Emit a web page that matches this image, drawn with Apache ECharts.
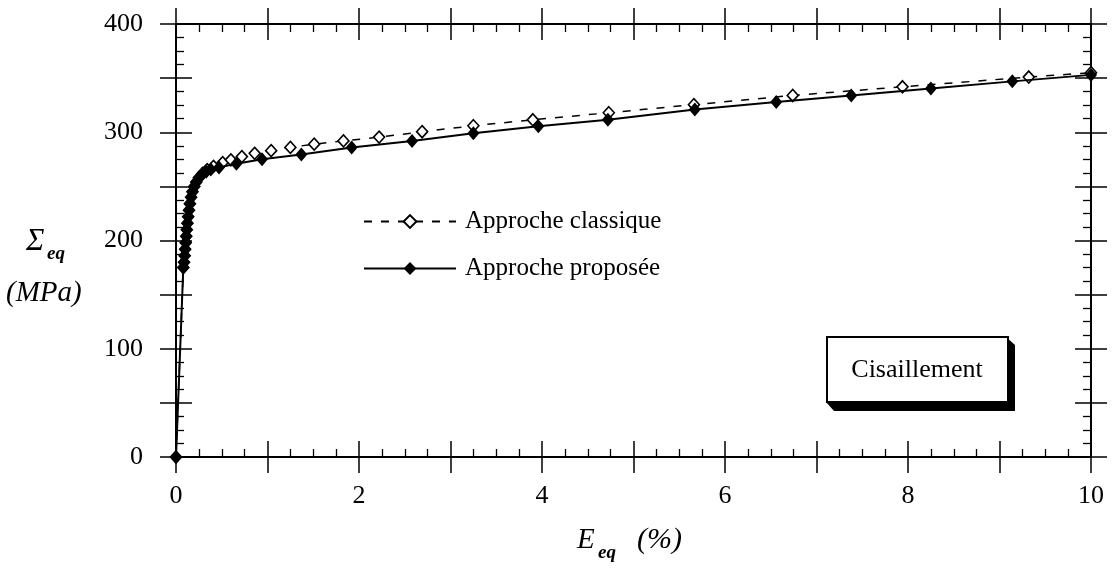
<!DOCTYPE html>
<html>
<head>
<meta charset="utf-8">
<script src="https://cdn.jsdelivr.net/npm/echarts@6/dist/echarts.min.js"></script>
<style>
html,body{margin:0;padding:0;background:#fff;}
#c{width:1113px;height:568px;}
</style>
</head>
<body>
<div id="c"></div>
<script>
// ---- data ----
const strainClassique = [0, 0.08, 0.088, 0.095, 0.1, 0.106, 0.112, 0.118, 0.125, 0.133, 0.142, 0.152, 0.165, 0.18, 0.2, 0.222, 0.25, 0.29, 0.34, 0.41, 0.51, 0.6, 0.72, 0.86, 1.04, 1.25, 1.51, 1.83, 2.22, 2.69, 3.25, 3.9, 4.73, 5.66, 6.74, 7.94, 9.32, 10];
const stressClassique = [0, 175, 180, 186, 192, 198, 204, 210, 216, 222, 228, 234, 240, 245, 250, 254, 258, 262, 265.5, 268.5, 272, 274.5, 277.5, 280.5, 283, 286, 289, 292, 295.5, 300.5, 306, 311.5, 318, 325.5, 334, 342, 351, 355];
const strainProposee = [0, 0.08, 0.088, 0.095, 0.1, 0.106, 0.112, 0.118, 0.125, 0.133, 0.142, 0.152, 0.165, 0.18, 0.2, 0.222, 0.25, 0.285, 0.33, 0.38, 0.47, 0.66, 0.94, 1.37, 1.92, 2.58, 3.25, 3.96, 4.72, 5.67, 6.56, 7.38, 8.25, 9.14, 10];
const stressProposee = [0, 175, 180, 186, 192, 198, 204, 210, 216, 222, 228, 234, 240, 245, 250, 254, 258, 261, 263.5, 265.5, 267.5, 271, 275, 279.5, 286, 292, 299, 305.5, 311.5, 321, 328, 334, 340.5, 347, 353];
const xLabels = [0, 2, 4, 6, 8, 10];
const yLabels = [0, 100, 200, 300, 400];
const seriesNames = ['Approche classique', 'Approche proposée'];

const FONT = 'Liberation Serif';
const pairs = (xs, ys) => xs.map((x, i) => [x, ys[i]]);

const baseX = {
  type: 'value', min: 0, max: 10, interval: 1,
  splitLine: {show: false}, minorSplitLine: {show: false},
  axisLine: {show: true, onZero: false, lineStyle: {color: '#000', width: 2}}
};
const baseY = {
  type: 'value', min: 0, max: 400, interval: 50,
  splitLine: {show: false}, minorSplitLine: {show: false},
  axisLine: {show: true, onZero: false, lineStyle: {color: '#000', width: 2}}
};
const tickIn = {show: true, inside: true, length: 16, lineStyle: {color: '#000', width: 1.5}};
const tickOut = {show: true, inside: false, length: 16, lineStyle: {color: '#000', width: 1.5}};
const minor = {show: true, splitNumber: 4, length: 8, lineStyle: {color: '#000', width: 1.3}};
const noLabel = {show: false};

const option = {
  animation: false,
  backgroundColor: '#fff',
  grid: [
    {left: 176, right: 22, top: 24, bottom: 111},
    {left: 176, right: 22, top: 24, bottom: 111}
  ],
  xAxis: [
    Object.assign({}, baseX, {gridIndex: 0, position: 'bottom', axisTick: tickIn, minorTick: minor,
      axisLabel: {show: true, margin: 26, color: '#000', fontFamily: FONT, fontSize: 26,
        formatter: v => xLabels.indexOf(v) >= 0 ? String(v) : ''}}),
    Object.assign({}, baseX, {gridIndex: 0, position: 'top', axisTick: tickIn, minorTick: minor, axisLabel: noLabel}),
    Object.assign({}, baseX, {gridIndex: 1, position: 'bottom', axisTick: tickOut, minorTick: {show: false}, axisLabel: noLabel}),
    Object.assign({}, baseX, {gridIndex: 1, position: 'top', axisTick: tickOut, minorTick: {show: false}, axisLabel: noLabel})
  ],
  yAxis: [
    Object.assign({}, baseY, {gridIndex: 0, position: 'left', axisTick: tickIn, minorTick: minor,
      axisLabel: {show: true, margin: 33, color: '#000', fontFamily: FONT, fontSize: 26,
        formatter: v => yLabels.indexOf(v) >= 0 ? String(v) : ''}}),
    Object.assign({}, baseY, {gridIndex: 0, position: 'right', axisTick: tickIn, minorTick: minor, axisLabel: noLabel}),
    Object.assign({}, baseY, {gridIndex: 1, position: 'left', axisTick: tickOut, minorTick: {show: false}, axisLabel: noLabel}),
    Object.assign({}, baseY, {gridIndex: 1, position: 'right', axisTick: tickOut, minorTick: {show: false}, axisLabel: noLabel})
  ],
  legend: {
    show: true, orient: 'vertical', left: 358, top: 204,
    itemWidth: 92, itemHeight: 16, itemGap: 22,
    textStyle: {fontFamily: FONT, fontSize: 25, color: '#000', padding: [0, 0, 0, 4]},
    data: seriesNames
  },
  series: [
    {
      name: seriesNames[0], type: 'line', xAxisIndex: 0, yAxisIndex: 0,
      data: pairs(strainClassique, stressClassique),
      symbol: 'diamond', symbolSize: [11, 12], showAllSymbol: true,
      lineStyle: {color: '#000', width: 1.5, type: [8, 9]},
      itemStyle: {color: '#fff', borderColor: '#000', borderWidth: 1.6},
      z: 2
    },
    {
      name: seriesNames[1], type: 'line', xAxisIndex: 0, yAxisIndex: 0,
      data: pairs(strainProposee, stressProposee),
      symbol: 'diamond', symbolSize: [12, 14], showAllSymbol: true,
      lineStyle: {color: '#000', width: 2, type: 'solid'},
      itemStyle: {color: '#000', borderColor: '#000', borderWidth: 0},
      z: 3
    }
  ],
  graphic: [
    {type: 'text', left: 26, top: 226, style: {text: 'Σ', font: 'italic 31px "Liberation Serif"', fill: '#000'}},
    {type: 'text', left: 47, top: 245, style: {text: 'eq', font: 'italic bold 19px "Liberation Serif"', fill: '#000'}},
    {type: 'text', left: 6, top: 279, style: {text: '(MPa)', font: 'italic 29px "Liberation Serif"', fill: '#000'}},
    {type: 'text', left: 577, top: 526, style: {text: 'E', font: 'italic 29px "Liberation Serif"', fill: '#000'}},
    {type: 'text', left: 598, top: 544, style: {text: 'eq', font: 'italic bold 19px "Liberation Serif"', fill: '#000'}},
    {type: 'text', left: 637, top: 525, style: {text: '(%)', font: 'italic 30px "Liberation Serif"', fill: '#000'}},
    {type: 'polygon', shape: {points: [[1006, 337], [1015, 345], [1015, 411], [834, 411], [826, 402]]}, style: {fill: '#000'}, z: 10},
    {type: 'rect', shape: {x: 827, y: 337, width: 181, height: 65}, style: {fill: '#fff', stroke: '#000', lineWidth: 2}, z: 11},
    {type: 'text', x: 917, y: 370, style: {text: 'Cisaillement', font: '26px "Liberation Serif"', fill: '#000', align: 'center', verticalAlign: 'middle'}, z: 12}
  ]
};

const chart = echarts.init(document.getElementById('c'), null, {renderer: 'canvas'});
chart.setOption(option);
</script>
</body>
</html>
